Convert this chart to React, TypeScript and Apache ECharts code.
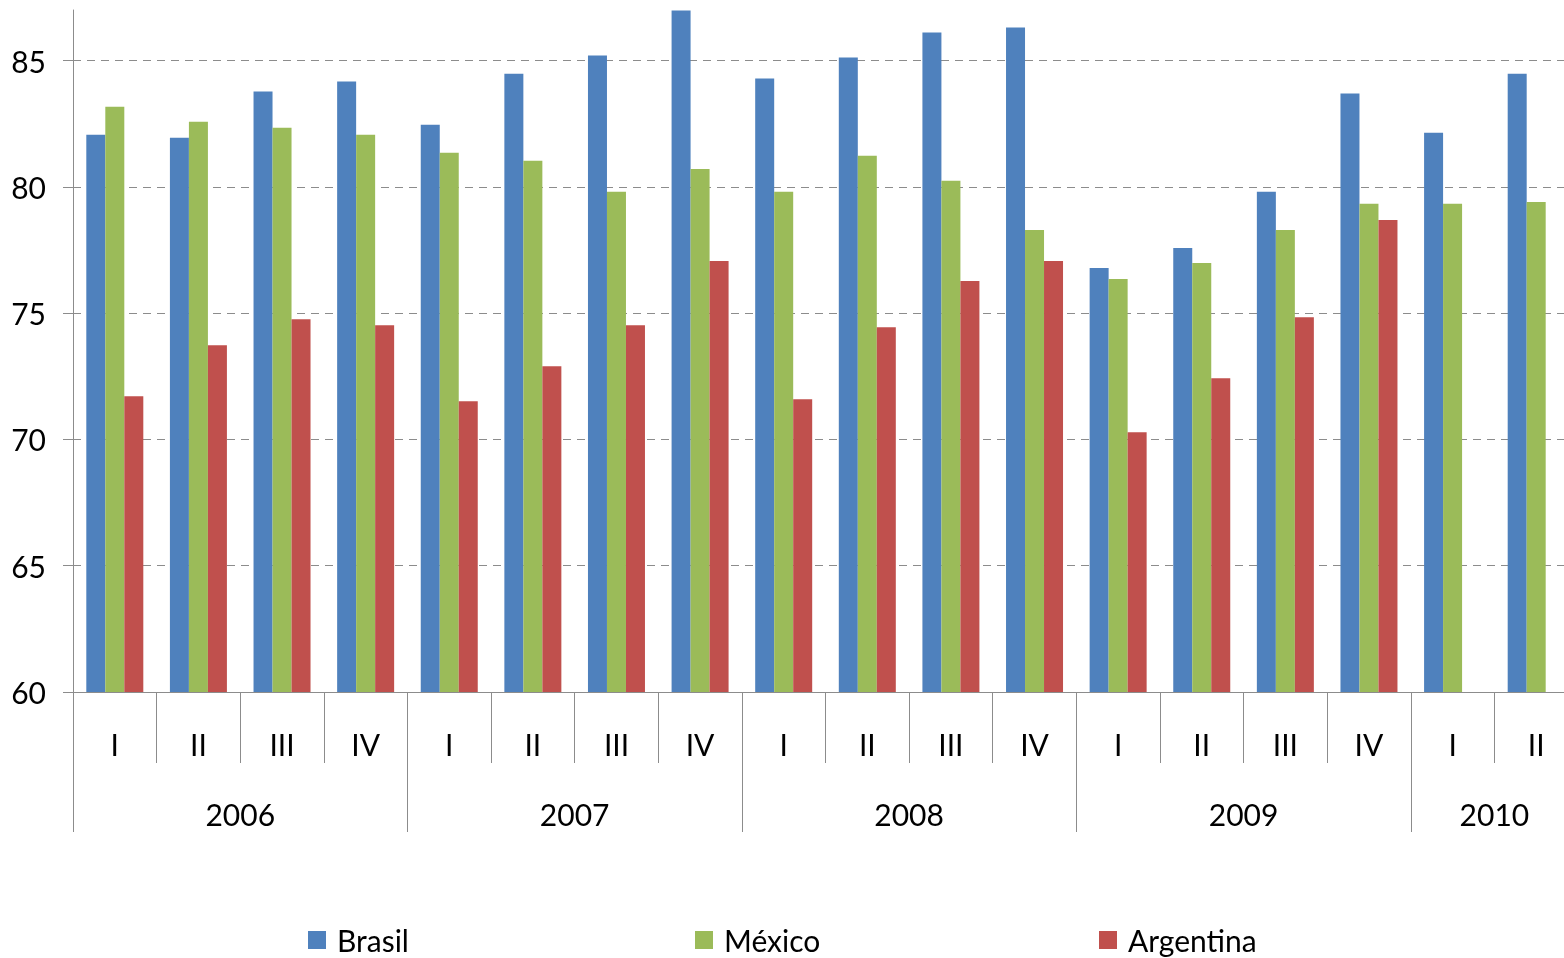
import React, { useEffect, useRef } from "react";
import * as echarts from "echarts";

const quarters = ["I", "II", "III", "IV", "I", "II", "III", "IV", "I", "II", "III", "IV", "I", "II", "III", "IV", "I", "II"];
const years = ["2006", "2007", "2008", "2009", "2010"];
const quartersPerYear = [4, 4, 4, 4, 2];
const yTicks = [60, 65, 70, 75, 80, 85];

const brasil = [82.06, 81.94, 83.77, 84.17, 82.46, 84.48, 85.2, 86.98, 84.29, 85.12, 86.11, 86.31, 76.79, 77.58, 79.8, 83.69, 82.14, 84.48];
const mexico = [83.17, 82.58, 82.34, 82.06, 81.35, 81.03, 79.8, 80.71, 79.8, 81.23, 80.24, 78.29, 76.35, 76.98, 78.29, 79.33, 79.33, 79.4];
const argentina: (number | null)[] = [71.71, 73.73, 74.76, 74.52, 71.51, 72.9, 74.52, 77.06, 71.59, 74.44, 76.27, 77.06, 70.28, 72.42, 74.84, 78.69, null, null];

const FONT = "Lato";
const AXIS_GRAY = "#8c8c8c";

export default function App() {
  const ref = useRef<HTMLDivElement>(null);
  useEffect(() => {
    if (!ref.current) return;
    const chart = echarts.init(ref.current, undefined, { renderer: "svg" });

    const bounds: number[] = [0];
    const centers: number[] = [];
    quartersPerYear.forEach((n) => {
      const start = bounds[bounds.length - 1];
      centers.push(start + n / 2);
      bounds.push(start + n);
    });
    const yearBounds = bounds.slice(0, bounds.length - 1);

    const legendBase = {
      orient: "horizontal",
      top: 920,
      icon: "rect",
      itemWidth: 18,
      itemHeight: 18,
      textStyle: { fontFamily: FONT, fontSize: 30, color: "#000", lineHeight: 30, padding: [0, 0, 0, 6] },
    };

    chart.setOption({
      animation: false,
      color: ["#4F81BD", "#9BBB59", "#C0504D"],
      textStyle: { fontFamily: FONT },
      grid: { left: 73, top: 10, width: 1505, height: 682, containLabel: false },
      legend: [
        { ...legendBase, left: 303, data: ["Brasil"] },
        { ...legendBase, left: 690, data: ["México"] },
        { ...legendBase, left: 1094, data: ["Argentina"] },
      ],
      xAxis: [
        {
          type: "category",
          data: quarters,
          position: "bottom",
          boundaryGap: true,
          axisLine: { show: true, lineStyle: { color: AXIS_GRAY, width: 1 } },
          axisTick: { show: true, interval: 0, length: 71, lineStyle: { color: AXIS_GRAY } },
          axisLabel: { interval: 0, margin: 37, fontFamily: FONT, fontSize: 30, lineHeight: 30, color: "#000" },
          splitLine: { show: false },
        },
        {
          type: "value",
          min: 0,
          max: quarters.length,
          position: "bottom",
          axisLine: { show: false },
          axisTick: { show: true, length: 140, customValues: yearBounds, lineStyle: { color: AXIS_GRAY } },
          axisLabel: {
            customValues: centers,
            margin: 107,
            fontFamily: FONT,
            fontSize: 30,
            lineHeight: 30,
            color: "#000",
            formatter: (v: number) => {
              const i = centers.indexOf(v);
              return i >= 0 ? years[i] : "";
            },
          },
          splitLine: { show: false },
        },
      ],
      yAxis: {
        type: "value",
        min: 60,
        max: 87,
        axisLine: { show: true, lineStyle: { color: AXIS_GRAY } },
        axisTick: { show: true, length: 10, customValues: yTicks, lineStyle: { color: AXIS_GRAY } },
        axisLabel: { customValues: yTicks, margin: 27, fontFamily: FONT, fontSize: 30, color: "#000" },
        splitLine: { show: true, lineStyle: { color: AXIS_GRAY, type: [8, 6], width: 1 } },
      },
      series: [
        { name: "Brasil", type: "bar", data: brasil, barWidth: 19, barGap: "0%", xAxisIndex: 0 },
        { name: "México", type: "bar", data: mexico, barWidth: 19, barGap: "0%", xAxisIndex: 0 },
        { name: "Argentina", type: "bar", data: argentina, barWidth: 19, barGap: "0%", xAxisIndex: 0 },
      ],
    });
    return () => chart.dispose();
  }, []);

  return <div ref={ref} style={{ position: "fixed", left: 0, top: 0, width: 1590, height: 958 }} />;
}
